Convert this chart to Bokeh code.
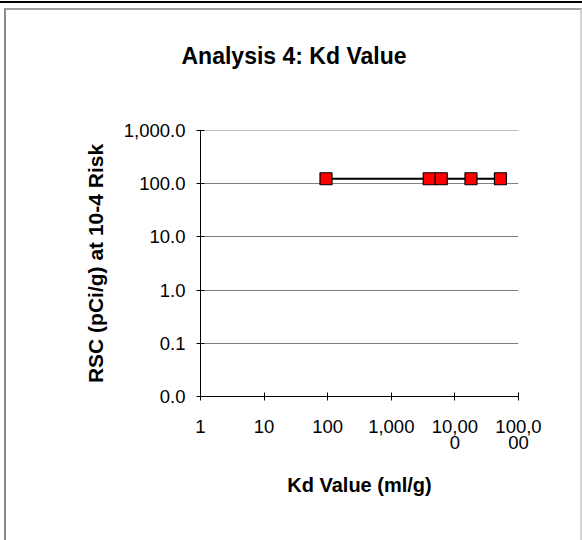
from bokeh.plotting import figure
from bokeh.models import FixedTicker, Title, InlineStyleSheet
from bokeh.embed import file_html
from bokeh.resources import INLINE

# data
kd_values = [94, 3950, 6100, 17900, 52000]
rsc_values = [124, 124, 124, 124, 124]
x_ticks = [1, 10, 100, 1000, 10000, 100000]
x_tick_labels = ["1", "10", "100", "1,000", "10,00\n0", "100,0\n00"]
y_ticks = [0.01, 0.1, 1, 10, 100, 1000]
y_tick_labels = ["0.0", "0.1", "1.0", "10.0", "100.0", "1,000.0"]

FONT = "Liberation Sans"

p = figure(width=566, height=524, x_axis_type="log", y_axis_type="log",
           x_range=(1, 100000), y_range=(0.01, 1002),
           output_backend="svg", toolbar_location=None,
           frame_width=318, frame_height=266,
           min_border_left=200, min_border_right=48,
           min_border_top=130, min_border_bottom=128)

p.outline_line_color = None
p.background_fill_color = "white"
p.border_fill_color = "white"

css = """
:host { position: relative; }
:host::after {
  content: ""; position: absolute; left: 4px; top: 8px; width: 574px; height: 530px;
  border-left: 2px solid #8a8a8a; border-top: 2px solid #a0a0a0; border-right: 2px solid #d4d4d4;
  pointer-events: none; z-index: 10;
}
:host::before {
  content: ""; position: absolute; left: 0px; top: 1px; width: 582px; height: 2px;
  background: #000; pointer-events: none; z-index: 10;
}
"""
p.stylesheets = [InlineStyleSheet(css=css)]

spacer = Title(text=" ", text_font=FONT, text_font_size="10px", standoff=44)
p.add_layout(spacer, "above")
t = Title(text="Analysis 4: Kd Value", text_font=FONT, text_font_size="23px",
          text_font_style="bold", text_color="black", align="left", offset=-19, standoff=10)
p.add_layout(t, "above")

p.xaxis.ticker = FixedTicker(ticks=x_ticks)
p.yaxis.ticker = FixedTicker(ticks=y_ticks)
p.xaxis.major_label_overrides = {v: s for v, s in zip(x_ticks, x_tick_labels)}
p.yaxis.major_label_overrides = {v: s for v, s in zip(y_ticks, y_tick_labels)}

for ax in (p.xaxis, p.yaxis):
    ax.minor_tick_line_color = None
    ax.major_tick_in = 4
    ax.major_tick_out = 4
    ax.axis_line_color = "black"
    ax.major_tick_line_color = "black"
    ax.major_label_text_font = FONT
    ax.major_label_text_font_size = "18.5px"
    ax.major_label_text_color = "black"
    ax.axis_label_text_font = FONT
    ax.axis_label_text_font_size = "20px"
    ax.axis_label_text_font_style = "bold"
    ax.axis_label_text_color = "black"

p.yaxis.axis_label_text_font_size = "21px"
p.xaxis.axis_label = "Kd Value (ml/g)"
p.yaxis.axis_label = "RSC (pCi/g) at 10-4 Risk"
p.xaxis.major_label_standoff = 15
p.yaxis.major_label_standoff = 11
p.xaxis.axis_label_standoff = 18
p.yaxis.axis_label_standoff = 14
p.xaxis.major_label_text_line_height = 0.8

p.xgrid.grid_line_color = None
p.ygrid.grid_line_color = "#808080"
p.ygrid.grid_line_width = 1

p.line(kd_values, rsc_values, line_color="black", line_width=2)
p.scatter(kd_values, rsc_values, marker="square", size=12, fill_color="red",
          line_color="black", line_width=1.2)

open("out.html", "w").write(file_html(p, INLINE))
